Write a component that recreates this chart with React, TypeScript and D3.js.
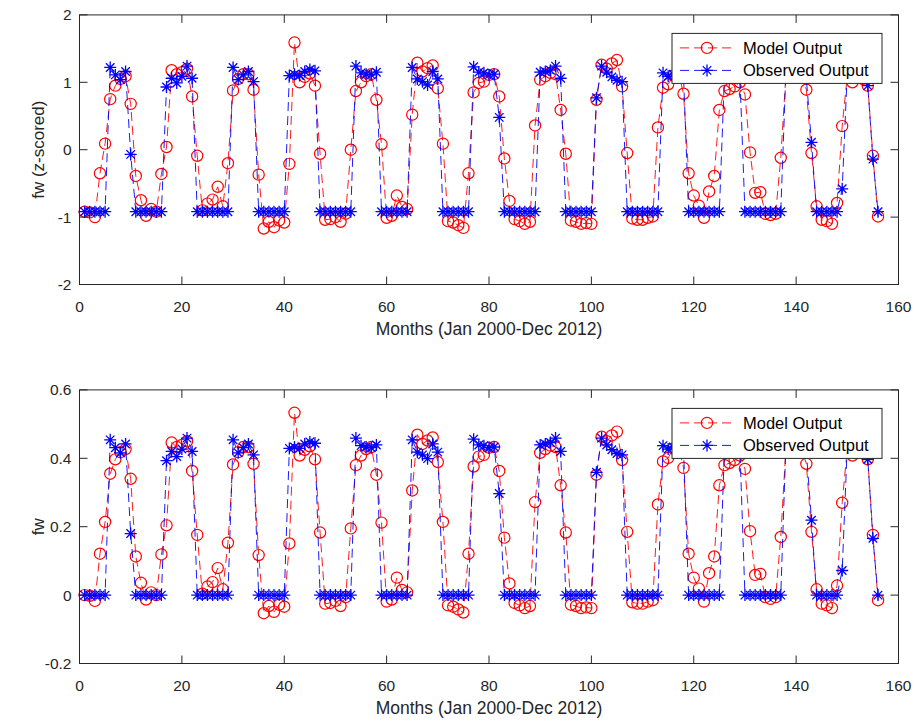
import React from 'react';
import * as d3 from 'd3';

// Month index (Jan 2000 = 1 ... Dec 2012 = 156)
const months: number[] = d3.range(1, 157);

// Upper panel: z-scored fw, one row per year
const modelZ: number[] = [
  -0.92, -0.93, -1.0, -0.35, 0.09, 0.75, 0.95, 1.05, 1.09, 0.68, -0.39, -0.75,
  -0.98, -0.88, -0.92, -0.36, 0.04, 1.18, 1.12, 1.15, 1.2, 0.79, -0.09, -0.9,
  -0.8, -0.74, -0.55, -0.84, -0.2, 0.88, 1.05, 1.12, 1.12, 0.89, -0.37, -1.17,
  -1.07, -1.15, -1.05, -1.08, -0.21, 1.59, 1.0, 1.08, 1.13, 0.95, -0.06, -1.04,
  -1.03, -1.0, -1.07, -0.95, 0.0, 0.87, 1.0, 1.09, 1.12, 0.74, 0.08, -1.01,
  -0.98, -0.68, -0.85, -0.88, 0.52, 1.29, 1.16, 1.21, 1.25, 0.91, 0.09, -1.06,
  -1.08, -1.12, -1.16, -0.35, 0.85, 0.99, 1.01, 1.11, 1.12, 0.79, -0.13, -0.76,
  -1.03, -1.06, -1.1, -1.07, 0.36, 1.04, 1.09, 1.14, 1.12, 0.59, -0.06, -1.05,
  -1.07, -1.1, -1.09, -1.1, 0.74, 1.26, 1.2, 1.28, 1.33, 0.94, -0.05, -1.02,
  -1.04, -1.04, -1.01, -0.99, 0.33, 0.92, 0.97, 1.1, 1.15, 0.83, -0.35, -0.68,
  -0.83, -1.01, -0.62, -0.39, 0.59, 0.87, 0.9, 0.94, 1.0, 0.82, -0.04, -0.64,
  -0.63, -0.95, -0.97, -0.95, -0.12, 1.1, 1.15, 1.12, 1.1, 0.89, -0.05, -0.84,
  -1.04, -1.06, -1.1, -0.79, 0.35, 1.1, 1.0, 1.1, 1.05, 0.95, -0.09, -0.99,
];

const observedZ: number[] = [
  -0.92, -0.92, -0.92, -0.92, -0.92, 1.22, 1.11, 1.04, 1.16, -0.07, -0.92, -0.92,
  -0.92, -0.92, -0.92, -0.92, 0.93, 1.06, 0.99, 1.09, 1.24, 1.06, -0.92, -0.92,
  -0.92, -0.92, -0.92, -0.92, -0.92, 1.22, 1.04, 1.11, 1.16, 1.01, -0.92, -0.92,
  -0.92, -0.92, -0.92, -0.92, 1.1, 1.12, 1.1, 1.16, 1.19, 1.17, -0.92, -0.92,
  -0.92, -0.92, -0.92, -0.92, -0.92, 1.24, 1.14, 1.12, 1.11, 1.15, -0.92, -0.92,
  -0.92, -0.92, -0.92, -0.92, 1.22, 1.05, 1.01, 0.96, 1.16, 1.05, -0.92, -0.92,
  -0.92, -0.92, -0.92, -0.92, 1.23, 1.15, 1.14, 1.11, 1.12, 0.48, -0.92, -0.92,
  -0.92, -0.92, -0.92, -0.92, -0.92, 1.15, 1.16, 1.18, 1.24, 1.06, -0.92, -0.92,
  -0.92, -0.92, -0.92, -0.92, 0.77, 1.24, 1.15, 1.08, 1.03, 1.01, -0.92, -0.92,
  -0.92, -0.92, -0.92, -0.92, -0.92, 1.14, 1.09, 1.12, 1.15, 1.1, -0.92, -0.92,
  -0.92, -0.92, -0.92, -0.92, -0.92, 1.1, 1.12, 1.15, 1.12, -0.92, -0.92, -0.92,
  -0.92, -0.92, -0.92, -0.92, -0.92, 1.15, 1.12, 1.18, 1.1, 1.05, 0.11, -0.92,
  -0.92, -0.92, -0.92, -0.92, -0.58, 1.15, 1.12, 1.15, 1.1, 0.95, -0.14, -0.92,
];

// Lower panel: fw, one row per year
const modelFw: number[] = [
  0, -0.002, -0.017, 0.121, 0.214, 0.355, 0.397, 0.418, 0.427, 0.34, 0.113, 0.036,
  -0.013, 0.008, 0, 0.119, 0.204, 0.446, 0.433, 0.439, 0.45, 0.363, 0.176, 0.004,
  0.025, 0.038, 0.079, 0.017, 0.153, 0.382, 0.418, 0.433, 0.433, 0.384, 0.117, -0.053,
  -0.032, -0.049, -0.028, -0.034, 0.151, 0.533, 0.408, 0.425, 0.435, 0.397, 0.183, -0.025,
  -0.023, -0.017, -0.032, -0.006, 0.195, 0.38, 0.408, 0.427, 0.433, 0.352, 0.212, -0.019,
  -0.013, 0.051, 0.015, 0.008, 0.306, 0.469, 0.442, 0.452, 0.461, 0.389, 0.214, -0.03,
  -0.034, -0.042, -0.051, 0.121, 0.376, 0.405, 0.41, 0.431, 0.433, 0.363, 0.168, 0.034,
  -0.023, -0.03, -0.038, -0.032, 0.272, 0.416, 0.427, 0.437, 0.433, 0.321, 0.183, -0.028,
  -0.032, -0.038, -0.036, -0.038, 0.352, 0.463, 0.45, 0.467, 0.478, 0.395, 0.185, -0.021,
  -0.025, -0.025, -0.019, -0.015, 0.265, 0.391, 0.401, 0.429, 0.439, 0.372, 0.121, 0.051,
  0.019, -0.019, 0.064, 0.113, 0.321, 0.38, 0.386, 0.395, 0.408, 0.369, 0.187, 0.059,
  0.062, -0.006, -0.011, -0.006, 0.17, 0.429, 0.439, 0.433, 0.429, 0.384, 0.185, 0.017,
  -0.025, -0.03, -0.038, 0.028, 0.27, 0.429, 0.408, 0.429, 0.418, 0.397, 0.176, -0.015,
];

const observedFw: number[] = [
  0, 0, 0, 0, 0, 0.454, 0.431, 0.416, 0.442, 0.18, 0, 0,
  0, 0, 0, 0, 0.393, 0.42, 0.405, 0.427, 0.459, 0.42, 0, 0,
  0, 0, 0, 0, 0, 0.454, 0.416, 0.431, 0.442, 0.41, 0, 0,
  0, 0, 0, 0, 0.429, 0.433, 0.429, 0.442, 0.448, 0.444, 0, 0,
  0, 0, 0, 0, 0, 0.459, 0.437, 0.433, 0.431, 0.439, 0, 0,
  0, 0, 0, 0, 0.454, 0.418, 0.41, 0.399, 0.442, 0.418, 0, 0,
  0, 0, 0, 0, 0.456, 0.439, 0.437, 0.431, 0.433, 0.297, 0, 0,
  0, 0, 0, 0, 0, 0.439, 0.442, 0.446, 0.459, 0.42, 0, 0,
  0, 0, 0, 0, 0.359, 0.459, 0.439, 0.425, 0.414, 0.41, 0, 0,
  0, 0, 0, 0, 0, 0.437, 0.427, 0.433, 0.439, 0.429, 0, 0,
  0, 0, 0, 0, 0, 0.429, 0.433, 0.439, 0.433, 0, 0, 0,
  0, 0, 0, 0, 0, 0.439, 0.433, 0.446, 0.429, 0.418, 0.219, 0,
  0, 0, 0, 0, 0.072, 0.439, 0.433, 0.439, 0.429, 0.397, 0.166, 0,
];

const xTicks: number[] = [0, 20, 40, 60, 80, 100, 120, 140, 160];
const zTicks: number[] = [-2, -1, 0, 1, 2];
const fwTicks: number[] = [-0.2, 0, 0.2, 0.4, 0.6];
const seriesNames: string[] = ['Model Output', 'Observed Output'];
const xLabel = 'Months (Jan 2000-Dec 2012)';

const W = 919;
const H = 722;
const X0 = 79.5;
const X1 = 898.5;
const FONT = '"Liberation Sans", Arial, Helvetica, sans-serif';
const AXIS = '#262626';
const RED = '#ff0000';
const BLUE = '#0000ff';
const DASH = '9,5';

function starPath(r: number): string {
  const d = r * 0.7071;
  return `M0,${-r}V${r}M${-r},0H${r}M${-d},${-d}L${d},${d}M${-d},${d}L${d},${-d}`;
}

function fmt(v: number): string {
  return String(Math.round(v * 10) / 10);
}

type PanelProps = {
  top: number;
  bottom: number;
  domain: [number, number];
  ticks: number[];
  ylabel: string;
  model: number[];
  observed: number[];
};

function Panel({ top, bottom, domain, ticks, ylabel, model, observed }: PanelProps) {
  const x = d3.scaleLinear().domain([0, 160]).range([X0, X1]);
  const y = d3.scaleLinear().domain(domain).range([bottom, top]);
  const line = d3
    .line<number>()
    .x((_, i) => x(months[i]))
    .y((d) => y(d));
  const tickLen = 8;
  const legW = 210;
  const legH = 50;
  const legX = X1 - 16.5 - legW;
  const legY = top + 18.5;
  const row1 = legY + 14.5;
  const row2 = legY + 37;
  const sx = legX + 35;
  const star = starPath(6);

  return (
    <g>
      {/* model series */}
      <path d={line(model) || ''} fill="none" stroke={RED} strokeWidth={0.9} strokeDasharray={DASH} />
      {model.map((v, i) => (
        <circle key={`m${i}`} cx={x(months[i])} cy={y(v)} r={5.6} fill="none" stroke={RED} strokeWidth={1.2} />
      ))}
      {/* observed series */}
      <path d={line(observed) || ''} fill="none" stroke={BLUE} strokeWidth={0.9} strokeDasharray={DASH} />
      {observed.map((v, i) => (
        <path
          key={`o${i}`}
          d={star}
          transform={`translate(${x(months[i])},${y(v)})`}
          fill="none"
          stroke={BLUE}
          strokeWidth={1.3}
        />
      ))}

      {/* axes box and ticks */}
      <rect x={X0} y={top} width={X1 - X0} height={bottom - top} fill="none" stroke={AXIS} strokeWidth={1} />
      {xTicks.map((t) => (
        <g key={`xt${t}`}>
          <line x1={x(t)} x2={x(t)} y1={bottom} y2={bottom - tickLen} stroke={AXIS} />
          <line x1={x(t)} x2={x(t)} y1={top} y2={top + tickLen} stroke={AXIS} />
          <text x={x(t)} y={bottom + 27.5} textAnchor="middle" fontSize={15.5} fill={AXIS} fontFamily={FONT}>
            {fmt(t)}
          </text>
        </g>
      ))}
      {ticks.map((t) => (
        <g key={`yt${t}`}>
          <line x1={X0} x2={X0 + tickLen} y1={y(t)} y2={y(t)} stroke={AXIS} />
          <line x1={X1} x2={X1 - tickLen} y1={y(t)} y2={y(t)} stroke={AXIS} />
          <text x={X0 - 8} y={y(t) + 5.4} textAnchor="end" fontSize={15.5} fill={AXIS} fontFamily={FONT}>
            {fmt(t)}
          </text>
        </g>
      ))}
      <text
        x={(X0 + X1) / 2}
        y={bottom + 50}
        textAnchor="middle"
        fontSize={17.5}
        fill={AXIS}
        fontFamily={FONT}
      >
        {xLabel}
      </text>
      <text
        transform={`translate(${44},${(top + bottom) / 2}) rotate(-90)`}
        textAnchor="middle"
        fontSize={17}
        fill={AXIS}
        fontFamily={FONT}
      >
        {ylabel}
      </text>

      {/* legend */}
      <rect x={legX} y={legY} width={legW} height={legH} fill="#ffffff" stroke={AXIS} strokeWidth={1} />
      <line x1={legX + 8} x2={legX + 62} y1={row1} y2={row1} stroke={RED} strokeWidth={0.9} strokeDasharray={DASH} />
      <circle cx={sx} cy={row1} r={5.6} fill="none" stroke={RED} strokeWidth={1.2} />
      <text x={legX + 71} y={row1 + 5.8} fontSize={16.5} fill="#000" fontFamily={FONT}>
        {seriesNames[0]}
      </text>
      <line x1={legX + 8} x2={legX + 62} y1={row2} y2={row2} stroke={BLUE} strokeWidth={0.9} strokeDasharray={DASH} />
      <path d={star} transform={`translate(${sx},${row2})`} fill="none" stroke={BLUE} strokeWidth={1.3} />
      <text x={legX + 71} y={row2 + 5.8} fontSize={16.5} fill="#000" fontFamily={FONT}>
        {seriesNames[1]}
      </text>
    </g>
  );
}

export default function App() {
  return (
    <svg
      width={W}
      height={H}
      viewBox={`0 0 ${W} ${H}`}
      style={{ position: 'absolute', left: 0, top: 0, background: '#ffffff' }}
    >
      <rect x={0} y={0} width={W} height={H} fill="#ffffff" />
      <Panel
        top={14.9}
        bottom={284.5}
        domain={[-2, 2]}
        ticks={zTicks}
        ylabel="fw (z-scored)"
        model={modelZ}
        observed={observedZ}
      />
      <Panel
        top={389.9}
        bottom={663.5}
        domain={[-0.2, 0.6]}
        ticks={fwTicks}
        ylabel="fw"
        model={modelFw}
        observed={observedFw}
      />
    </svg>
  );
}
